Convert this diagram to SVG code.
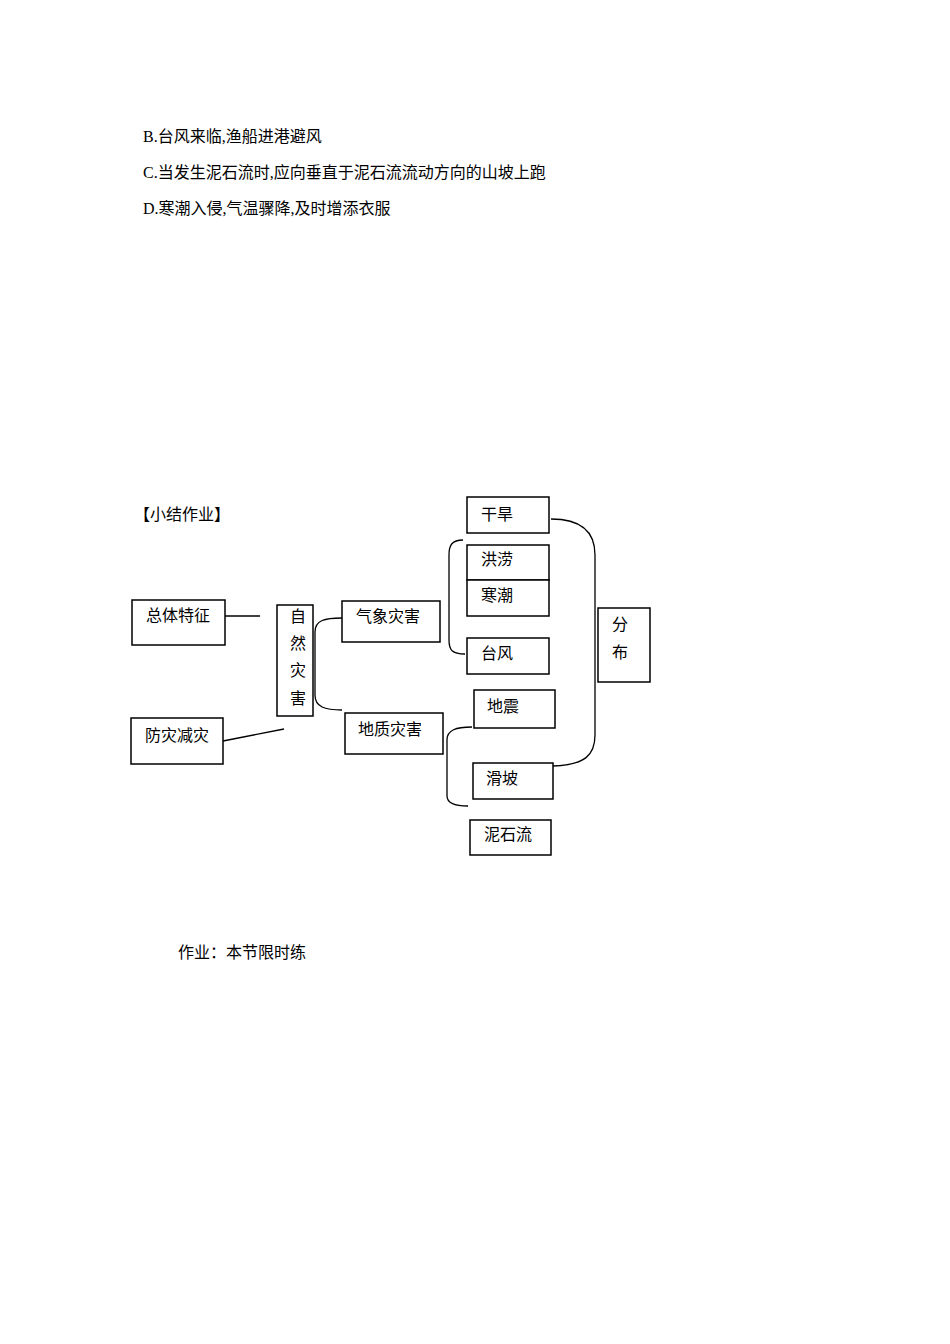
<svg xmlns="http://www.w3.org/2000/svg" width="950" height="1344" viewBox="0 0 950 1344">
<style>
text{font-family:"Liberation Serif","Noto Sans CJK SC",serif;font-size:16px;fill:#000}
rect{fill:#fff;stroke:#000;stroke-width:1.5}
path,line{fill:none;stroke:#000;stroke-width:1.3}
</style>
<rect x="0" y="0" width="950" height="1344" style="stroke:none"/>
<text x="143" y="142">B.台风来临,渔船进港避风</text>
<text x="143" y="178">C.当发生泥石流时,应向垂直于泥石流流动方向的山坡上跑</text>
<text x="143" y="214">D.寒潮入侵,气温骤降,及时增添衣服</text>
<text x="134" y="520">【小结作业】</text>
<g id="connectors">
<line x1="225" y1="616" x2="260" y2="616"/>
<line x1="223" y1="741" x2="284" y2="729"/>
<path d="M342,618 C325,618 315,620 315,632 L315,695 C315,707 325,710 342,710"/>
<path d="M463,540 C452,540 449,545 449,555 L449,640 C449,650 452,654 465,654"/>
<path d="M472,727 C456,727 447,730 447,740 L447,796 C447,804 456,806 468,806"/>
<path d="M551,519 C585,519 595,535 595,555 L595,735 C595,755 585,765 553,766"/>
</g>
<g id="n1"><rect x="467" y="497" width="82" height="36"/><text x="481" y="520">干旱</text></g>
<g id="n2"><rect x="467" y="545" width="82" height="35"/><text x="481" y="565">洪涝</text></g>
<g id="n3"><rect x="467" y="580" width="82" height="36"/><text x="481" y="601">寒潮</text></g>
<g id="n4"><rect x="467" y="638" width="82" height="36"/><text x="481" y="659">台风</text></g>
<g id="n5"><rect x="598" y="608" width="52" height="74"/><text x="612" y="630">分</text><text x="612" y="658">布</text></g>
<g id="n6"><rect x="132" y="600" width="93" height="45"/><text x="146" y="621">总体特征</text></g>
<g id="n7"><rect x="277" y="605" width="36" height="111"/><text x="290" y="622">自</text><text x="290" y="649">然</text><text x="290" y="676">灾</text><text x="290" y="704">害</text></g>
<g id="n8"><rect x="342" y="601" width="98" height="41"/><text x="356" y="622">气象灾害</text></g>
<g id="n9"><rect x="345" y="713" width="98" height="41"/><text x="358" y="735">地质灾害</text></g>
<g id="n10"><rect x="474" y="690" width="81" height="38"/><text x="487" y="712">地震</text></g>
<g id="n11"><rect x="473" y="763" width="80" height="36"/><text x="486" y="784">滑坡</text></g>
<g id="n12"><rect x="470" y="820" width="81" height="35"/><text x="484" y="840">泥石流</text></g>
<g id="n13"><rect x="131" y="718" width="92" height="46"/><text x="145" y="741">防灾减灾</text></g>
<text x="178" y="958">作业：本节限时练</text>
</svg>
